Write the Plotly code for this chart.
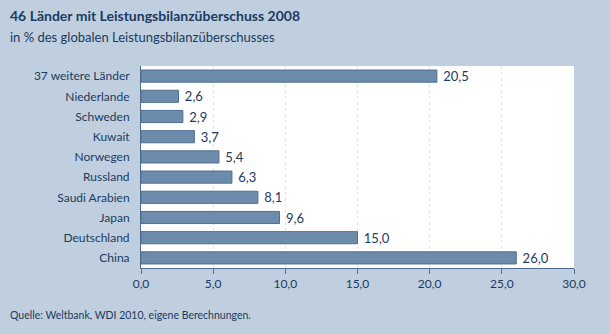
import plotly.graph_objects as go

countries = ["China", "Deutschland", "Japan", "Saudi Arabien", "Russland",
             "Norwegen", "Kuwait", "Schweden", "Niederlande", "37 weitere Länder"]
values = [26.0, 15.0, 9.6, 8.1, 6.3, 5.4, 3.7, 2.9, 2.6, 20.5]
labels = ["\u00a0" + f"{v:.1f}".replace(".", ",") for v in values]
tick_vals = [0, 5, 10, 15, 20, 25, 30]
tick_text = ["0,0", "5,0", "10,0", "15,0", "20,0", "25,0", "30,0"]

BG = "#bfcfdf"
TXT = "#1c3a5e"
FONT = "Lato"

fig = go.Figure(go.Bar(
    x=values, y=countries, orientation="h",
    marker=dict(color="#6d8cab", line=dict(color="#4f6e8f", width=1)),
    text=labels, textposition="outside", cliponaxis=False,
    constraintext="none",
    textfont=dict(color=TXT, size=13, family=FONT),
))

fig.update_layout(
    width=610, height=334,
    margin=dict(l=141, r=36, t=66, b=66),
    paper_bgcolor=BG, plot_bgcolor="white",
    bargap=0.4, showlegend=False,
    font=dict(family=FONT, color=TXT, size=12),
    xaxis=dict(range=[0, 30], tickvals=tick_vals, ticktext=tick_text,
               showgrid=True, gridcolor="#e2e2e2", griddash="dot", gridwidth=1,
               showline=True, linecolor="#4f6e8f", linewidth=1,
               ticks="outside", ticklen=5, tickcolor="#4f6e8f",
               zeroline=False, fixedrange=True, tickfont=dict(size=12)),
    yaxis=dict(showline=True, linecolor="#4f6e8f", linewidth=1,
               ticks="", ticklen=0, showgrid=False, ticklabelstandoff=8,
               tickfont=dict(size=12)),
)

# place annotations in pixel coordinates relative to the figure
W, H = 610, 334
pl, pr, pt, pb = 141, 36, 66, 66
pw, ph = W - pl - pr, H - pt - pb
anns = []
specs = [
    ("<b>46 Länder mit Leistungsbilanzüberschuss 2008</b>", 8, 15, 14),
    ("in % des globalen Leistungsbilanzüberschusses", 8, 37, 13),
    ("Quelle: Weltbank, WDI 2010, eigene Berechnungen.", 8, 315, 10.5),
]
for t, px, py, fs in specs:
    anns.append(dict(text=t, xref="paper", yref="paper",
                     x=(px - pl) / pw, y=1 - (py - pt) / ph,
                     xanchor="left", yanchor="middle", showarrow=False,
                     font=dict(size=fs, color=TXT, family=FONT)))
fig.update_layout(annotations=anns)

fig.write_html("out.html")
